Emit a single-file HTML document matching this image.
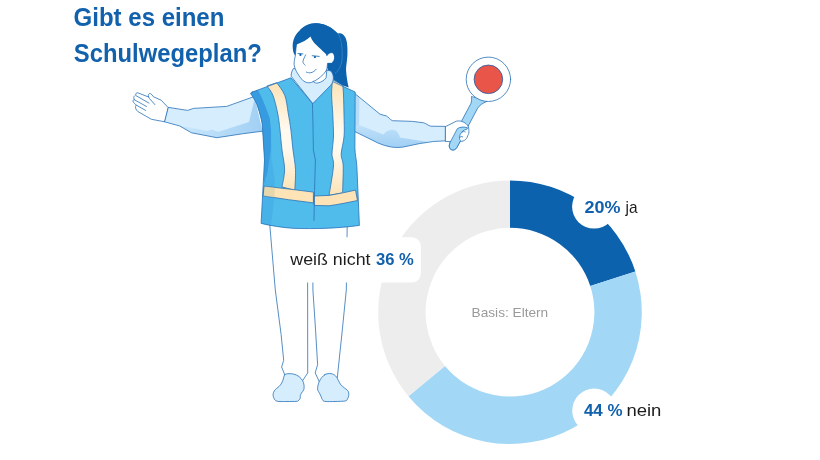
<!DOCTYPE html>
<html lang="de">
<head>
<meta charset="utf-8">
<title>Gibt es einen Schulwegeplan?</title>
<style>
html,body{margin:0;padding:0;background:#fff;}
body{width:820px;height:460px;overflow:hidden;font-family:"Liberation Sans",sans-serif;}
svg{display:block;}
.t{font-family:"Liberation Sans",sans-serif;}
.title{font-weight:700;font-size:26px;fill:#1161ad;}
.lbl{font-size:17px;fill:#1d1d1b;}
.num{font-weight:700;fill:#1161ad;}
.basis{font-size:13px;fill:#9a9a9a;}
.ol{fill:none;stroke:#2a72b8;stroke-width:0.8;stroke-linecap:round;stroke-linejoin:round;}
</style>
</head>
<body>
<svg width="820" height="460" viewBox="0 0 820 460">
<rect width="820" height="460" fill="#ffffff"/>
<!-- TITLE -->
<text class="t title" x="73.6" y="25.6" textLength="150.8" lengthAdjust="spacingAndGlyphs">Gibt es einen</text>
<text class="t title" x="73.8" y="62" textLength="188" lengthAdjust="spacingAndGlyphs">Schulwegeplan?</text>
<!-- FIGURE -->
<g id="figure">
<defs>
<linearGradient id="gs" x1="0" y1="0" x2="0" y2="1">
<stop offset="0" stop-color="#fde3b6"/><stop offset="0.45" stop-color="#fffaf0"/><stop offset="0.6" stop-color="#fffaf0"/><stop offset="1" stop-color="#fde3b6"/>
</linearGradient>
<linearGradient id="gl" gradientUnits="userSpaceOnUse" x1="190" y1="0" x2="262" y2="0">
<stop offset="0" stop-color="#c6e4fb"/><stop offset="1" stop-color="#a1d0f4"/>
</linearGradient>
<linearGradient id="gr" gradientUnits="userSpaceOnUse" x1="0" y1="118" x2="0" y2="148">
<stop offset="0" stop-color="#cbe6fb"/><stop offset="1" stop-color="#9fcff4"/>
</linearGradient>
</defs>
<path class="ol" d="M269.8 225.2L275.3 290L281.1 334.4L283.7 360.4L281.6 367L284.7 374.7"/>
<path class="ol" d="M307.6 250L307.7 372.9L302.6 380.7"/>
<path class="ol" d="M312.9 250L312.9 290L315.5 329.1L317.6 364.6L315.2 372.9L319.4 381.9"/>
<path class="ol" d="M347.2 226L346.3 290L342.4 329.1L337.3 377.7"/>
<path class="ol" style="fill:#d5edfd" d="M284.7 374.7C285.7 373.6 287.5 373.8 289.0 373.7C290.5 373.6 292.0 373.6 293.7 374.1C295.4 374.6 297.5 375.4 299.0 376.5C300.5 377.6 301.8 379.3 302.6 380.7C303.4 382.1 303.8 383.5 304.0 385.0C304.2 386.5 304.2 388.4 303.8 389.7C303.4 391.0 302.1 392.0 301.5 393.0C300.9 394.0 300.5 394.8 300.3 395.6C300.1 396.4 300.4 397.2 300.3 397.8C300.2 398.4 300.1 398.7 299.7 399.2C299.3 399.7 298.8 400.4 298.2 400.8C297.6 401.2 298.0 401.3 296.1 401.4C294.2 401.5 290.0 401.5 287.0 401.5C284.0 401.5 280.2 401.7 278.1 401.4C276.0 401.1 275.4 400.5 274.6 399.5C273.8 398.5 273.3 396.8 273.1 395.6C272.9 394.4 273.2 393.3 273.6 392.3C274.0 391.3 274.5 390.5 275.2 389.7C275.9 388.9 277.1 388.1 278.0 387.3C278.9 386.5 279.7 386.0 280.5 384.9C281.3 383.8 282.1 382.2 282.8 380.5C283.5 378.8 283.7 375.8 284.7 374.7Z"/>
<path class="ol" style="fill:#d5edfd" d="M324.8 374.7C325.7 374.1 326.2 374.0 327.0 373.8C327.8 373.6 328.6 373.5 329.5 373.5C330.4 373.5 331.6 373.7 332.5 374.0C333.4 374.3 334.3 374.9 334.9 375.3C335.5 375.8 335.9 376.2 336.3 376.7C336.7 377.2 336.8 377.4 337.3 378.3C337.8 379.2 338.6 381.1 339.3 382.3C340.0 383.5 340.6 384.6 341.5 385.5C342.4 386.4 343.5 387.2 344.5 388.0C345.5 388.8 346.8 389.5 347.5 390.3C348.2 391.1 348.5 391.9 348.7 392.8C348.9 393.7 348.9 394.6 348.7 395.6C348.5 396.6 348.1 398.1 347.5 399.0C346.9 399.9 347.2 400.6 345.1 401.0C343.0 401.4 338.4 401.4 335.0 401.5C331.6 401.6 326.9 401.7 324.8 401.4C322.7 401.1 323.0 400.4 322.4 399.6C321.8 398.8 321.7 397.9 321.2 396.8C320.7 395.7 320.1 394.4 319.5 393.2C318.9 392.0 317.9 391.0 317.6 389.7C317.4 388.4 317.7 386.7 318.0 385.3C318.3 383.9 318.8 382.6 319.4 381.3C320.0 380.0 320.9 378.5 321.8 377.4C322.7 376.3 323.9 375.3 324.8 374.7Z"/>
<path fill="#d5edfd" d="M167.9 107.3L187.6 110.4L193.5 108.4L226.7 106.4L254 96.6L262.5 131.2L242.3 133.8L216.9 137.7L191.5 132.8L179.8 126L164.2 121.7Z"/>
<path fill="url(#gl)" d="M254.8 98L249 122L218 132L212 129.5L207 131L195 128.5L179.8 126L191.5 132.8L216.9 137.7L242.3 133.8L262.5 131.2Z"/>
<path class="ol" d="M254 96.6L226.7 106.4L193.5 108.4L187.6 110.4L167.9 107.3L164.2 121.7L179.8 126L191.5 132.8L216.9 137.7L242.3 133.8L262.5 131.2"/>
<path class="ol" style="fill:#fff" d="M167.9 107.3L161.2 100.2L153.4 96.7C152.5 95.5 151.6 94.2 150.6 93.6C149.5 93.2 148.3 94.2 148.3 95.3L148.6 97L137.7 92.8C136.5 92.6 135.6 93.6 135.8 94.8C134.5 95.8 133.6 96.7 133.8 97.7C133.9 98.6 134 99.2 134.3 99.7C133.3 100 132.8 100.5 133 101.1C133.2 102.5 135 104 136.3 105.1C135.6 106 135.3 107 135.6 108C136 109.5 137 110.8 137.7 111.4L151.4 119.3L164.2 121.7Z"/>
<path class="ol" d="M148.6 97L149.3 98.3L154.9 104.6M136.3 95.8L149 103.1M134.3 99.7L146.5 106.5M136.3 105.1L145.6 110.4"/>
<path fill="#d5edfd" d="M355.4 94L379.9 114.1C382 115 384 115.2 386.2 115.8C388.5 117 390 119.6 392.4 120.7L412.6 121.4L423.7 122.8C426.3 123.6 428.3 125.6 430.7 126.2L445.7 126.4L445.7 140.8L433.4 141.5L419.5 143.6L402.9 147.1C399 147.6 395.5 147.6 391.7 147.1C386.8 146.2 382.2 144.8 377.8 142.9L355.4 131.8Z"/>
<path fill="url(#gr)" d="M355.4 94L359.3 97.5L359 124.9L383.4 134.6C384.6 133 385.8 131.8 387.6 131.1C389.4 130 391.3 129.5 393.1 129.7C395.5 130 397.2 131.2 398 133.2C398.8 134.5 399.5 136 400 137.4L427.9 142L419.5 143.6L402.9 147.1C399 147.6 395.5 147.6 391.7 147.1C386.8 146.2 382.2 144.8 377.8 142.9L355.4 131.8Z"/>
<path fill="#b8dcf8" d="M355.4 94L359.3 97.5L359 124.9L355.4 126Z"/>
<path class="ol" d="M355.4 94L379.9 114.1C382 115 384 115.2 386.2 115.8C388.5 117 390 119.6 392.4 120.7L412.6 121.4L423.7 122.8C426.3 123.6 428.3 125.6 430.7 126.2L445.7 126.4L445.7 140.8L433.4 141.5L419.5 143.6L402.9 147.1C399 147.6 395.5 147.6 391.7 147.1C386.8 146.2 382.2 144.8 377.8 142.9L355.4 131.8"/>
<path fill="#50bcec" d="M252.5 92L290.9 77.8L312.4 103.3L331 80.8L355.2 92L354.9 148C354.9 154 356.6 160 356.9 167L359.4 225.4C337 228.5 315 229 292.9 228.3C282 227.5 271 225.8 261.1 223.4L264.5 160C264.2 155.0 263.1 136.7 262.6 130.0C262.1 123.3 262.3 123.9 261.3 119.6C260.3 115.2 258.4 108.2 256.7 103.9C255.0 99.7 251.9 95.7 250.9 94.1C250.3 93 251 92.4 252.5 92Z"/>
<path fill="#379be0" d="M252.5 92L258 90L262.0 98.0L266.0 108.0L269.8 118.3L271.0 130.0L270.8 150L267.5 172L264 184L264.5 160C264.2 155.0 263.1 136.7 262.6 130.0C262.1 123.3 262.3 123.9 261.3 119.6C260.3 115.2 258.4 108.2 256.7 103.9C255.0 99.7 251.9 95.7 250.9 94.1C250.3 93 251 92.4 252.5 92Z"/>
<path fill="#379be0" d="M271 130L271.6 160C273.5 170 275 180 275 188C274.5 200 272.5 212 271 225.6L261.1 223.4L264.5 160L262.6 130Z" opacity="0.28"/>
<path class="ol" style="fill:url(#gs)" d="M267.2 86.3C268.2 87.8 271.3 91.0 273.0 95.4C274.7 99.9 276.4 107.2 277.6 113.0C278.8 118.8 279.3 123.8 280.0 130.0C280.7 136.2 281.2 143.4 282.0 150.0C282.8 156.6 284.6 163.4 284.6 169.6C284.6 175.8 282.4 184.1 282.0 187.0L294.8 190.2C294.9 186.8 295.8 176.3 295.5 169.6C295.2 162.9 293.8 156.6 293.0 150.0C292.2 143.4 291.7 136.2 290.9 130.0C290.1 123.8 289.2 118.8 288.2 113.0C287.2 107.2 286.7 100.4 284.8 95.4C282.9 90.4 278.3 85.1 277.0 83.0Z"/>
<path class="ol" style="fill:url(#gs)" d="M332.4 80.2C332.3 82.7 331.5 89.2 331.6 95.0C331.7 100.8 332.5 108.2 332.8 115.0C333.1 121.8 333.6 129.5 333.5 136.0C333.4 142.5 332.0 149.0 332.0 154.0C332.0 159.0 334.0 159.1 333.5 166.0C333.0 172.9 329.8 190.5 329.0 195.4L342.6 192.8C342.7 188.3 343.4 172.5 343.2 166.0C343.0 159.5 341.0 159.0 341.2 154.0C341.4 149.0 343.6 142.5 344.1 136.0C344.6 129.5 344.1 121.8 344.0 115.0C343.9 108.2 343.7 99.9 343.5 95.0C343.3 90.1 342.9 87.0 342.8 85.4Z"/>
<path class="ol" style="fill:#fde3b6" d="M264.5 186.2C281 188 297 190 313.4 192.1L313.4 202.9C297 201 280 198.5 263.5 196Z"/>
<path fill="#c9c9a0" opacity="0.45" d="M264.5 186.2L274.9 187.4C275 191 274.6 194.5 274.1 197.6L263.5 196Z"/>
<path class="ol" style="fill:#fde3b6" d="M314.4 196L329 195.4C338 194 347 192 355.5 190.1L357.5 200.5C348 202.5 338 204.5 329 205.8L314.4 205.4Z"/>
<path class="ol" d="M312.4 103.3C313 120 313.2 140 313.4 150L315.4 160C314.8 180 314.3 200 314 220.5"/>
<path class="ol" d="M252.5 92L290.9 77.8L312.4 103.3L331 80.8L355.2 92L354.9 148C354.9 154 356.6 160 356.9 167L359.4 225.4C337 228.5 315 229 292.9 228.3C282 227.5 271 225.8 261.1 223.4L264.5 160C264.2 155.0 263.1 136.7 262.6 130.0C262.1 123.3 262.3 123.9 261.3 119.6C260.3 115.2 258.4 108.2 256.7 103.9C255.0 99.7 251.9 95.7 250.9 94.1C250.3 93 251 92.4 252.5 92Z"/>
<path fill="#0c62ad" d="M300 30C306 24 312 23.2 316.5 23.3C324 23.4 331 27 335 30.9L338 33.6C341 32.6 344 34.5 345.9 38.4C347.6 43 347.6 50 347.4 55C347 62 346 66 346.1 70.4C346.5 77 347.6 83 348.7 87.4L342.8 85.4L333 79.6L326.5 66.5L320 40Z"/>
<path fill="none" stroke="#3f88cb" stroke-width="0.8" d="M338 33.6C341.5 40 342.8 50 342 60C341.3 66 338.5 71 335 73.5"/>
<path class="ol" style="fill:#d5edfd" d="M293.4 68.6C292 70.5 291.2 73 291.1 76.2L312.8 103.6L330.7 85.3C332.5 82.8 333.4 80.3 333.4 77.7C333.2 75 332.4 72.6 330.7 70.9L326.1 70.1L310 75Z"/>
<path class="ol" style="fill:#fff" d="M296.7 40L295.3 55.7C294.6 59 294 62 294.1 64.8C294.6 68 296 71 297.9 73.9C299.5 76.5 301.3 79 303.3 80.8C305.5 82.5 308 83 310.1 82.7C311.2 82.6 312.2 82.2 313.2 81.5C314.5 82.8 316 83.3 317.7 83C319.8 82.7 321.6 81.8 323 80.8C324.3 79.9 325.4 78.8 326.1 77.7L326.9 69.3L327.6 63.3L331.4 63.3C333.5 62 334.8 59.5 334.5 56.4C334.2 53.8 332.8 52.5 331.4 52.6C329.5 52.7 328 54 326.9 55.7L320 35L305 33Z"/>
<path class="ol" d="M313.2 81.5C315.5 81 319.5 78 323 74.7C324.6 73 326 71 326.9 69.3"/>
<path class="ol" d="M306.3 72.1C308 72.8 309.5 72.9 310.9 72.7C313 72.3 315 70.8 316.2 69.3"/>
<path class="ol" d="M305.7 54.8C304.5 57 303.3 59.5 302.9 61.8C303.2 63.2 304 64.3 305.1 65.1"/>
<path class="ol" style="stroke:#0c62ad" d="M298 53.5L302.9 53.9M312.2 55.7L319.2 56.4"/>
<circle cx="300.4" cy="54.9" r="1.1" fill="#0c62ad"/><circle cx="314.9" cy="57.1" r="1.1" fill="#0c62ad"/>
<path fill="#0c62ad" d="M295.3 55.9C293.6 53.5 292.9 51 292.8 48.3C292.5 45 292.8 42 293.7 39.6C294.8 36 296.8 33 299.1 30.9C301.3 28.7 304 26.8 306.7 25.4C309.8 24 313 23.3 316.5 23.3C320 23.4 323.3 24.2 326.3 25.4C329.6 26.8 332.6 28.7 335 30.9C337.5 33.5 339.5 37 340.5 41C341.5 46 341.5 52 340.5 57C339.5 62 337 67 333 70L328.5 68L327.6 63.3L331.4 63.3C333.5 62 334.8 59.5 334.5 56.4C334.2 53.8 332.8 52.5 331.4 52.6C329.5 52.7 328.3 53.6 327.4 54.8C325 53.5 322.8 51.5 320.9 49.3C318 46.5 315 44 313.3 41.7C312 40 311 38.2 310.5 36.5C307.5 39.5 302 42.5 296.7 44.5C296 48 295.6 52 295.3 55.9Z"/>
<path class="ol" style="fill:#a3d7f6" d="M471.5 96.9C471.8 99.5 471.6 101.5 470.8 103.7L449.9 143C448.6 146 449.2 148.6 451.2 149.6C453.3 150.6 455.6 149.8 456.9 147.4L477.6 108.3C479.5 105.5 482.5 103 486.8 101.4Z"/>
<circle class="ol" style="fill:#fff" cx="488.4" cy="79.3" r="22.2"/>
<circle cx="488.4" cy="79.3" r="14.3" fill="#e95649" stroke="#1c5ea8" stroke-width="0.8"/>
<path class="ol" style="fill:#fff" d="M445.7 126.5L456.3 121.2C459 120.6 461.5 121 463.2 122C465.5 123 467 124.3 467.7 125.8C468.6 127 469 128.8 468.8 130.4C469.2 132.3 468.7 134.3 467.7 135.7C467.2 137.8 466 139.4 464.7 140.3C462.5 141.4 460 141.8 457.8 141.8L445.7 141.5Z"/>
<path class="ol" style="fill:#a3d7f6" d="M457.7 128.4C460 126.9 464 126.6 467.6 127.8L466.6 129.6C464.6 129.4 463 130.5 462 132.1C460.5 133.5 459.5 135.5 459.6 137.4C459.3 138.8 459.8 140 460.6 140.7L456.9 147.4C455.6 149.8 453.3 150.6 451.2 149.6C449.2 148.6 448.6 146 449.9 143Z"/>
<path class="ol" d="M462 132.1C463 131.4 464.2 131.3 465.2 131.8M459.6 137.4C460.5 136.6 461.6 136.4 462.6 136.8"/>
</g>
<!-- DONUT -->
<g id="donut">
<path d="M510.00 180.40A131.8 131.8 0 0 1 635.35 271.47L590.27 286.12A84.4 84.4 0 0 0 510.00 227.80Z" fill="#0c62ad"/>
<path d="M635.35 271.47A131.8 131.8 0 0 1 408.45 396.21L444.97 366.00A84.4 84.4 0 0 0 590.27 286.12Z" fill="#a3d7f6"/>
<path d="M408.45 396.21A131.8 131.8 0 0 1 510.00 180.40L510.00 227.80A84.4 84.4 0 0 0 444.97 366.00Z" fill="#ededed"/>
<text class="t basis" x="471.6" y="316.8" textLength="76.6" lengthAdjust="spacingAndGlyphs">Basis: Eltern</text>
</g>
<!-- LABELS -->
<g id="labels">
<rect x="282" y="237.2" width="138.8" height="45.4" rx="9" fill="#fff"/>
<text class="t lbl" x="290.3" y="265" textLength="80.2" lengthAdjust="spacingAndGlyphs">weiß nicht</text>
<text class="t lbl num" x="376" y="265" textLength="37.8" lengthAdjust="spacingAndGlyphs">36 %</text>
<circle cx="594.1" cy="206.6" r="22" fill="#fff"/>
<text class="t lbl num" x="584.6" y="213.4" textLength="36" lengthAdjust="spacingAndGlyphs">20%</text>
<text class="t lbl" x="625.6" y="213.4" textLength="12" lengthAdjust="spacingAndGlyphs">ja</text>
<circle cx="594.2" cy="410.6" r="22" fill="#fff"/>
<text class="t lbl num" x="583.9" y="415.9" textLength="38.6" lengthAdjust="spacingAndGlyphs">44 %</text>
<text class="t lbl" x="626.4" y="415.9" textLength="35" lengthAdjust="spacingAndGlyphs">nein</text>
</g>
</svg>
</body>
</html>
